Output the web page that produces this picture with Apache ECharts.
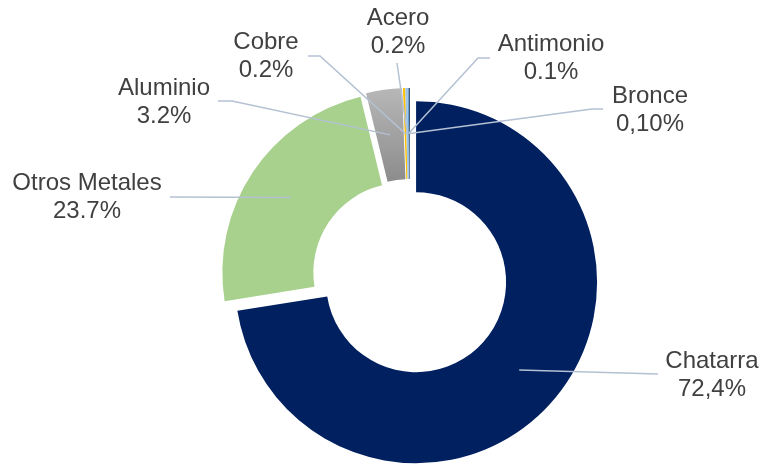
<!DOCTYPE html>
<html>
<head>
<meta charset="utf-8">
<script src="https://cdn.jsdelivr.net/npm/echarts@6/dist/echarts.min.js"></script>
<style>
  html, body { margin: 0; padding: 0; background: #fff; }
  #chart { width: 761px; height: 464px; }
</style>
</head>
<body>
<div id="chart"></div>
<script>
const categories = ['Chatarra', 'Otros Metales', 'Aluminio', 'Cobre', 'Acero', 'Antimonio', 'Bronce']
const values = [72.4, 23.7, 3.2, 0.2, 0.2, 0.1, 0.1]
const percentLabels = ['72,4%', '23.7%', '3.2%', '0.2%', '0.2%', '0.1%', '0,10%']

const center = [410, 277]
const radius = [90, 181]
const explode = 8

// where each label sits (centre of the text block) and where its leader line turns / ends
const labelPos = [[712, 375], [87, 197], [164, 102], [266, 56], [398, 32], [551, 58], [650, 110]]
const lineElbow = [[658, 374], [170, 197], [232, 101], [320, 56], [397, 63], [478, 58], [592, 109]]
const lineEnd = [[658, 374], [170, 197], [218, 101], [308, 56], [397, 63], [490, 58], [603, 109]]

const chart = echarts.init(document.getElementById('chart'))

const sliceColors = [
  '#002060',
  '#A9D18E',
  new echarts.graphic.LinearGradient(0, 0, 0, 1, [
    { offset: 0, color: '#B7B7B7' },
    { offset: 1, color: '#8C8C8C' }
  ]),
  '#FFC000',
  '#9DC3E6',
  '#5B9BD5',
  '#44546A'
]

// middle of each (exploded) slice, where the leader line starts
const total = values.reduce((a, b) => a + b, 0)
let acc = 0
const anchors = values.map(v => {
  const mid = (acc + v / 2) / total * Math.PI * 2
  acc += v
  const r = (radius[0] + radius[1]) / 2 + explode
  return [center[0] + r * Math.sin(mid), center[1] - r * Math.cos(mid)]
})

const leaderLines = categories.map((name, i) => ({
  type: 'polyline',
  z: 100,
  silent: true,
  shape: { points: [anchors[i], lineElbow[i], lineEnd[i]] },
  style: { stroke: '#B4C1D3', lineWidth: 1.5, fill: null }
}))

const labelTexts = categories.map((name, i) => ({
  type: 'text',
  z: 101,
  silent: true,
  x: labelPos[i][0],
  y: labelPos[i][1],
  style: {
    text: name + '\n' + percentLabels[i],
    fontFamily: 'Liberation Sans, Arial, sans-serif',
    fontSize: 24,
    lineHeight: 28,
    fill: '#404040',
    align: 'center',
    verticalAlign: 'middle'
  }
}))

chart.setOption({
  animation: false,
  graphic: { elements: leaderLines.concat(labelTexts) },
  series: [{
    type: 'pie',
    center: center,
    radius: radius,
    startAngle: 90,
    clockwise: true,
    selectedMode: 'multiple',
    selectedOffset: explode,
    emphasis: { disabled: true },
    label: { show: false },
    labelLine: { show: false },
    data: categories.map((name, i) => ({
      name: name,
      value: values[i],
      selected: true,
      itemStyle: { color: sliceColors[i] }
    }))
  }]
})
</script>
</body>
</html>
